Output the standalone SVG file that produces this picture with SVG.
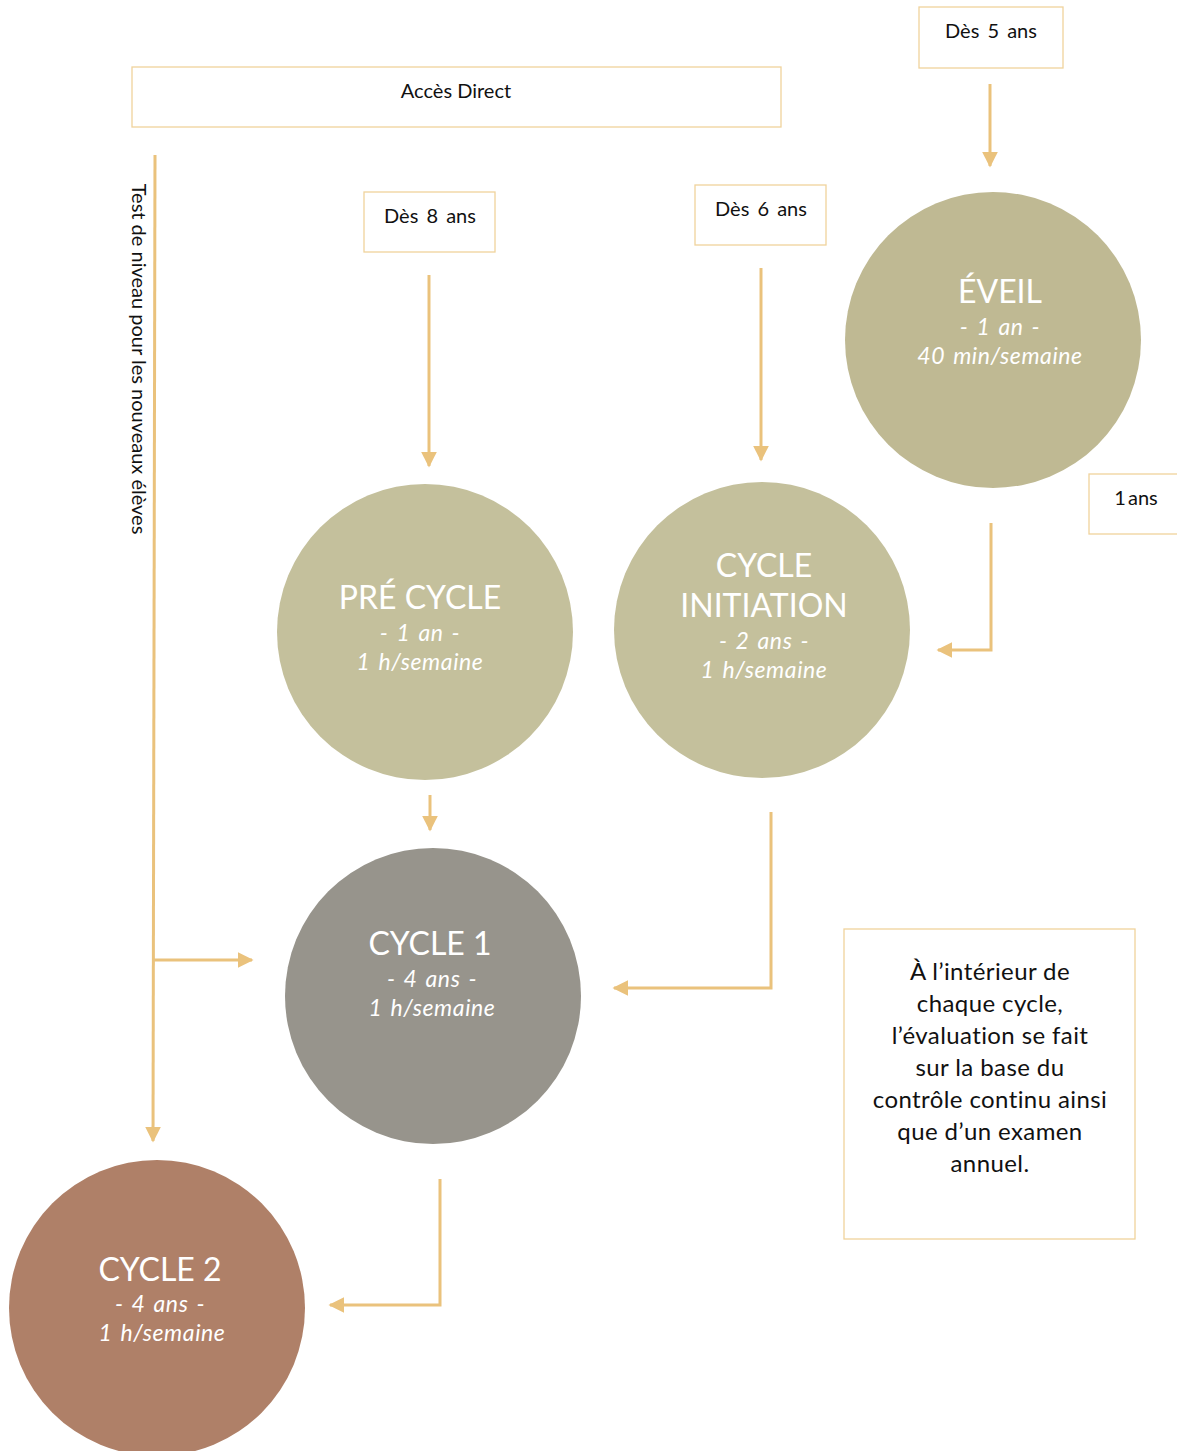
<svg xmlns="http://www.w3.org/2000/svg" width="1177" height="1451" viewBox="0 0 1177 1451">
<defs>
<marker id="ah" viewBox="0 0 10 10" refX="9" refY="5" markerWidth="5.3" markerHeight="5.3" markerUnits="strokeWidth" orient="auto">
<path d="M0,0 L10,5 L0,10 z" fill="#EAC27C"/>
</marker>
<style>
.box{fill:#fff;stroke:#F0D39C;stroke-width:1.3}
.lbl{font-family:Lato,"Noto Sans","DejaVu Sans",sans-serif;font-size:20px;fill:#111;text-anchor:middle}
.ttl{font-family:Lato,"Noto Sans","DejaVu Sans",sans-serif;font-size:32px;fill:#fff;text-anchor:middle}
.sub{font-family:Lato,"Noto Sans","DejaVu Sans",sans-serif;font-size:23px;font-style:italic;fill:#fff;text-anchor:middle;letter-spacing:0.6px;word-spacing:2px}
.con{fill:none;stroke:#EAC27C;stroke-width:3;marker-end:url(#ah)}
.note{font-family:Lato,"Noto Sans","DejaVu Sans",sans-serif;font-size:24px;fill:#111;text-anchor:middle;letter-spacing:0.4px}
</style>
</defs>
<rect width="1177" height="1451" fill="#fff"/>
<g id="connectors">
<path class="con" d="M155,155 L153,1141"/>
<path class="con" d="M153,960 L252,960"/>
<path class="con" d="M990,84 L990,166"/>
<path class="con" d="M429,275 L429,466"/>
<path class="con" d="M761,268 L761,460"/>
<path class="con" d="M991,523 L991,650 L938,650"/>
<path class="con" d="M430,795 L430,830"/>
<path class="con" d="M771,812 L771,988 L614,988"/>
<path class="con" d="M440,1179 L440,1305 L330,1305"/>
</g>
<g id="acces-direct"><rect class="box" x="132" y="67" width="649" height="60"/><text class="lbl" x="456" y="98">Accès Direct</text></g>
<g id="des5"><rect class="box" x="919" y="7" width="144" height="61"/><text class="lbl" x="991" y="38" word-spacing="3">Dès 5 ans</text></g>
<g id="des8"><rect class="box" x="364" y="192" width="131" height="60"/><text class="lbl" x="430" y="223" word-spacing="3">Dès 8 ans</text></g>
<g id="des6"><rect class="box" x="695" y="185" width="131" height="60"/><text class="lbl" x="761" y="216" word-spacing="3">Dès 6 ans</text></g>
<g id="un-an"><rect class="box" x="1089" y="474" width="92" height="60"/><text class="lbl" x="1136" y="505" word-spacing="-3">1 ans</text></g>
<g id="test-niveau"><text class="lbl" font-size="16.7" transform="translate(132,359) rotate(90)">Test de niveau pour les nouveaux élèves</text></g>
<g id="eveil"><circle cx="993" cy="340" r="148" fill="#BFB993"/><text class="ttl" x="1000" y="303">ÉVEIL</text><text class="sub" x="1000" y="335">- 1 an -</text><text class="sub" x="1000" y="364">40 min/semaine</text></g>
<g id="pre-cycle"><circle cx="425" cy="632" r="148" fill="#C4C09C"/><text class="ttl" x="420" y="609">PRÉ CYCLE</text><text class="sub" x="420" y="641">- 1 an -</text><text class="sub" x="420" y="670">1 h/semaine</text></g>
<g id="cycle-initiation"><circle cx="762" cy="630" r="148" fill="#C4C09C"/><text class="ttl" x="764" y="577">CYCLE</text><text class="ttl" x="764" y="617">INITIATION</text><text class="sub" x="764" y="649">- 2 ans -</text><text class="sub" x="764" y="678">1 h/semaine</text></g>
<g id="cycle1"><circle cx="433" cy="996" r="148" fill="#97948C"/><text class="ttl" x="430" y="955">CYCLE 1</text><text class="sub" x="432" y="987">- 4 ans -</text><text class="sub" x="432" y="1016">1 h/semaine</text></g>
<g id="cycle2"><circle cx="157" cy="1308" r="148" fill="#AF8068"/><text class="ttl" x="160" y="1281">CYCLE 2</text><text class="sub" x="160" y="1312">- 4 ans -</text><text class="sub" x="162" y="1341">1 h/semaine</text></g>
<g id="note"><rect class="box" x="844" y="929" width="291" height="310"/>
<text class="note" x="990" y="980">À l’intérieur de</text>
<text class="note" x="990" y="1012">chaque cycle,</text>
<text class="note" x="990" y="1044">l’évaluation se fait</text>
<text class="note" x="990" y="1076">sur la base du</text>
<text class="note" x="990" y="1108">contrôle continu ainsi</text>
<text class="note" x="990" y="1140">que d’un examen</text>
<text class="note" x="990" y="1172">annuel.</text>
</g>
</svg>
